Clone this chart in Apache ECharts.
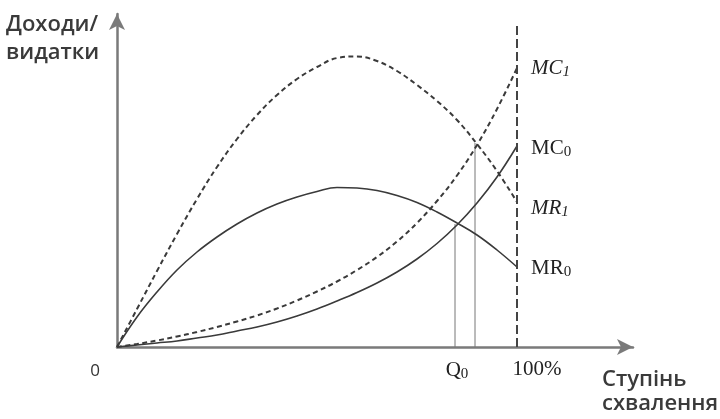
<!DOCTYPE html>
<html><head><meta charset="utf-8">
<script src="https://cdn.jsdelivr.net/npm/echarts@6/dist/echarts.min.js"></script>
<style>html,body{margin:0;padding:0;background:#fff}#c{width:720px;height:419px}</style>
</head><body><div id="c"></div>
<script>
// approval level (%) at which curves are sampled
const xPos = [0, 5, 10, 15, 20, 25, 30, 35, 40, 45, 50, 55, 60, 65, 70, 75, 80, 85, 90, 95, 100];
// revenue / cost values (arbitrary units)
const mr1 = [0, 38, 76, 113, 148, 180, 208, 232, 252, 268, 280, 289, 290.5, 286, 276, 262, 246, 227, 203, 176, 145];
const mr0 = [0, 30, 55, 77, 95, 110, 123, 134, 143, 150, 155.5, 159.5, 159, 156.5, 151.5, 144.5, 135, 124, 112, 97, 80];
const mc1 = [0, 3, 6.5, 10.5, 15, 20, 25.5, 31.5, 38.5, 46.5, 55.5, 65.5, 77, 90, 105.5, 124, 146, 171.5, 202, 238, 279];
const mc0 = [0, 2, 4, 6, 9, 12, 16, 20, 25, 31, 38, 46, 54.5, 64, 75, 88, 103.5, 122, 144, 170, 201];
const q0Point = [84.5, 123];
const q1Point = [89.5, 204];
const limitX = 100;
const limitTop = 322;
const tickValues = [0, 84.5, 100];
const tickLabels = ['0', 'Q0', '100%'];
const curveNames = ['MR1', 'MR0', 'MC1', 'MC0'];

const serif = 'Liberation Serif';
const sans = 'Open Sans';
const ink = '#3a3a3a';
const axisColor = '#7a7a7a';

const pts = arr => xPos.map((x, i) => [x, arr[i]]);

const subRich = {
  mi: {fontFamily: serif, fontStyle: 'italic', fontSize: 21, color: '#222', lineHeight: 23},
  ms: {fontFamily: serif, fontStyle: 'italic', fontSize: 15, color: '#222', verticalAlign: 'bottom', lineHeight: 14},
  ni: {fontFamily: serif, fontSize: 21, color: '#222', lineHeight: 23},
  ns: {fontFamily: serif, fontSize: 15, color: '#222', verticalAlign: 'bottom', lineHeight: 14}
};

function curve(name, arr, dashed, italic, dy) {
  const base = name.slice(0, 2), sub = name.slice(2);
  return {
    name: name, type: 'line', data: pts(arr), smooth: 0.4,
    showSymbol: false, silent: true, z: 3,
    lineStyle: {color: ink, width: dashed ? 2 : 1.6, type: dashed ? [5, 3.5] : 'solid'},
    endLabel: {
      show: true, distance: 14, offset: [0, dy],
      formatter: italic ? '{mi|' + base + '}{ms|' + sub + '}' : '{ni|' + base + '}{ns|' + sub + '}',
      rich: subRich
    }
  };
}

function vline(x, top, style, z) {
  return {type: 'line', data: [[x, 0], [x, top]], showSymbol: false, silent: true, z: z, lineStyle: style};
}

const chart = echarts.init(document.getElementById('c'), null, {renderer: 'canvas'});
chart.setOption({
  animation: false,
  backgroundColor: '#fff',
  grid: {left: 117, right: 87, top: 14, bottom: 72},
  xAxis: {
    type: 'value', min: 0, max: 129,
    axisLine: {show: true, onZero: false, symbol: ['none', 'arrow'], symbolSize: [12, 16],
      lineStyle: {color: axisColor, width: 2.5}},
    axisTick: {show: false}, splitLine: {show: false},
    axisLabel: {
      show: true, margin: 12, customValues: tickValues,
      formatter: v => {
        const i = tickValues.indexOf(v);
        if (i === 0) return '{z|' + tickLabels[0] + '}';
        if (i === 1) return '{q|Q}{qs|0}';
        if (i === 2) return '{h|' + tickLabels[2] + '}';
        return '';
      },
      rich: {
        z: {fontFamily: sans, fontSize: 17, color: '#333', padding: [4, 44, 0, 0]},
        q: {fontFamily: serif, fontSize: 21, color: '#222', lineHeight: 23, padding: [0, 0, 0, 4]},
        qs: {fontFamily: serif, fontSize: 15, color: '#222', verticalAlign: 'bottom', lineHeight: 14},
        h: {fontFamily: serif, fontSize: 21, color: '#222', padding: [0, 0, 0, 40]}
      }
    }
  },
  yAxis: {
    type: 'value', min: 0, max: 333,
    axisLine: {show: true, onZero: false, symbol: ['none', 'arrow'], symbolSize: [12, 16],
      lineStyle: {color: axisColor, width: 2.5}},
    axisTick: {show: false}, splitLine: {show: false}, axisLabel: {show: false}
  },
  series: [
    curve(curveNames[0], mr1, true, true, 6),
    curve(curveNames[1], mr0, false, false, 1),
    curve(curveNames[2], mc1, true, true, 0),
    curve(curveNames[3], mc0, false, false, 2),
    vline(q0Point[0], q0Point[1], {color: '#777', width: 1}, 2),
    vline(q1Point[0], q1Point[1], {color: '#777', width: 1}, 2),
    vline(limitX, limitTop, {color: '#444', width: 2, type: [9, 4]}, 4)
  ],
  graphic: [
    {type: 'text', x: 6, y: 25, style: {text: 'Доходи/', font: '600 22px "Open Sans"', fill: ink, textVerticalAlign: 'middle'}},
    {type: 'text', x: 6, y: 53, style: {text: 'видатки', font: '600 22px "Open Sans"', fill: ink, textVerticalAlign: 'middle'}},
    {type: 'text', x: 602, y: 380, style: {text: 'Ступінь', font: '600 22px "Open Sans"', fill: ink, textVerticalAlign: 'middle'}},
    {type: 'text', x: 602, y: 404, style: {text: 'схвалення', font: '600 22px "Open Sans"', fill: ink, textVerticalAlign: 'middle'}}
  ]
});
</script>
</body></html>
